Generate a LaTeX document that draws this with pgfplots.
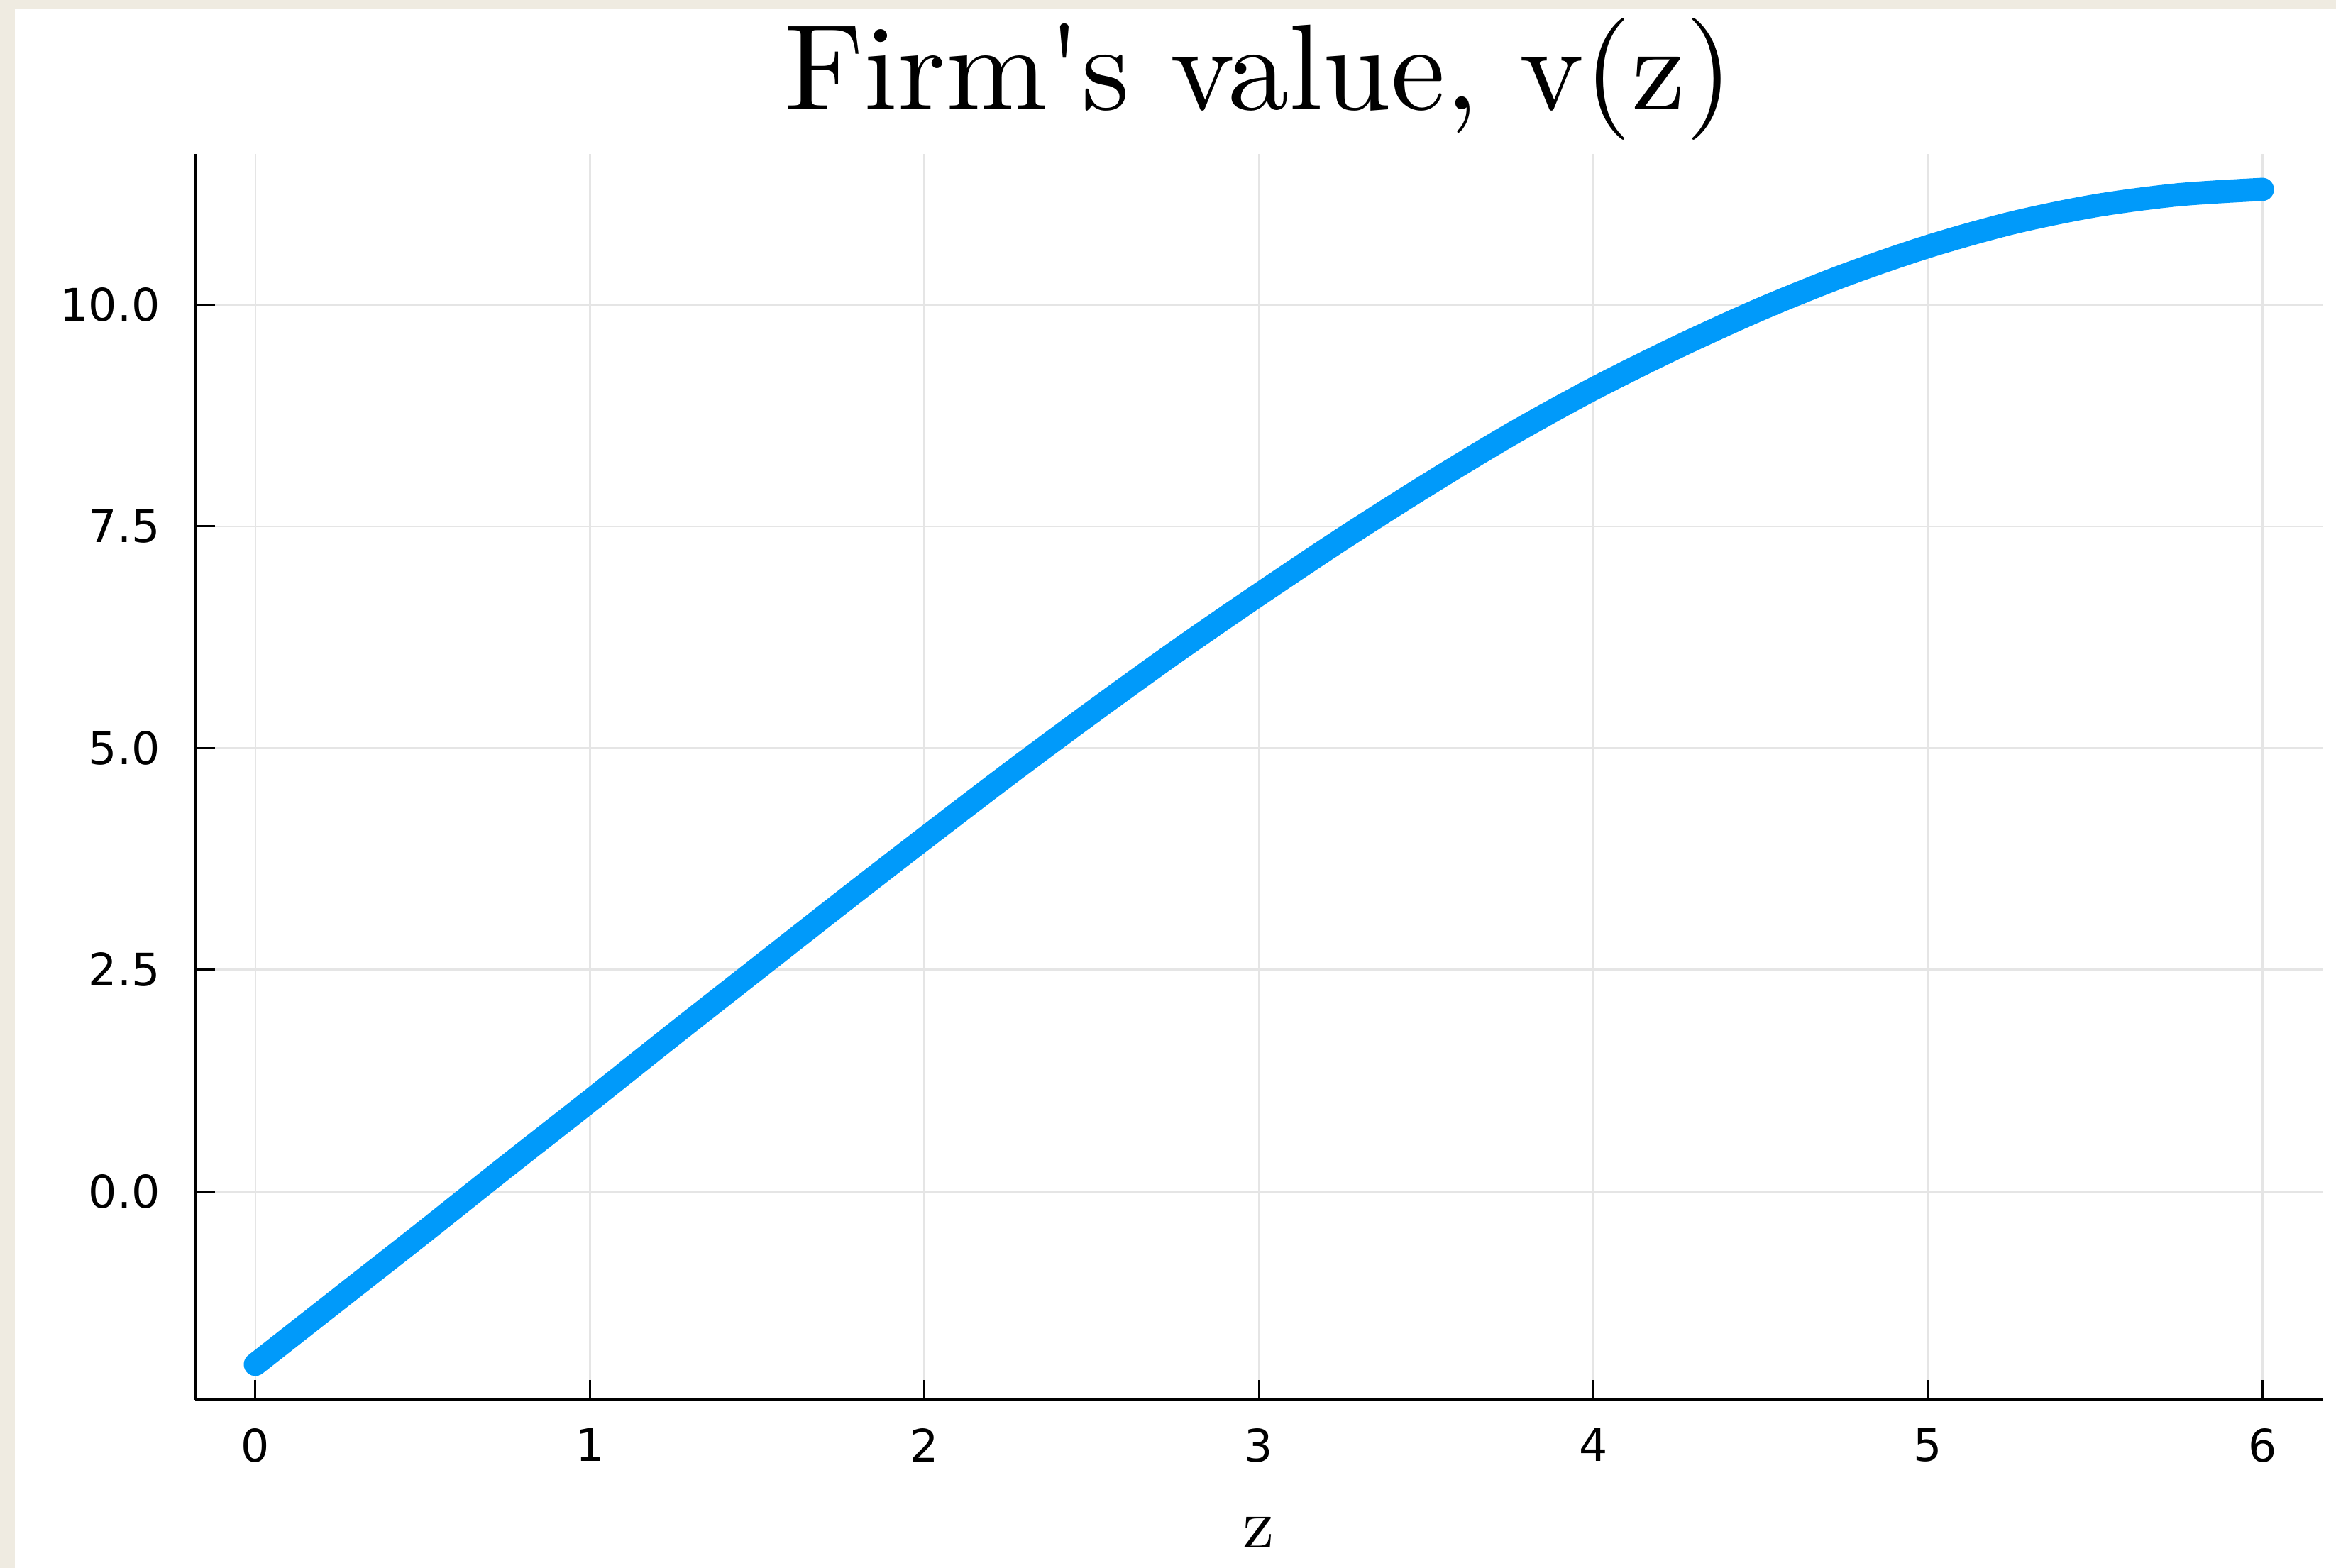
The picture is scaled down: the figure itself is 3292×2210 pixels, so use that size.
\documentclass[border=0pt]{standalone}
\usepackage{fontspec}
\usepackage{pgfplots}
\pgfplotsset{compat=1.18}
\newfontfamily\dejavu{DejaVu Sans}
\newfontfamily\lmten{lmroman10-regular}[Extension=.otf]
\definecolor{plotblue}{RGB}{0,154,250}
\definecolor{beigebg}{RGB}{239,235,225}
\pgfplotstableread{
x y
0.00 -1.95
0.25 -1.21
0.50 -0.47
0.75 0.28
1.00 1.02
1.25 1.77
1.50 2.51
1.75 3.25
2.00 3.98
2.25 4.70
2.50 5.40
2.75 6.08
3.00 6.73
3.25 7.36
3.50 7.96
3.75 8.53
4.00 9.05
4.25 9.52
4.50 9.95
4.75 10.33
5.00 10.655
5.25 10.92
5.50 11.115
5.75 11.24
6.00 11.30
}\vdata
\begin{document}
\begin{tikzpicture}[x=0.15pt,y=0.15pt]
\fill[white] (0,0) rectangle (3292,2210);
\fill[beigebg] (0,0) rectangle (21,2210);
\fill[beigebg] (0,2198) rectangle (3292,2210);
\path[use as bounding box] (0,0) rectangle (3292,2210);
\coordinate (A) at (275,237);
\begin{axis}[
  at={(A)}, anchor=south west,
  width=449.7pt, height=263.4pt, scale only axis,
  xmin=-0.18, xmax=6.18, ymin=-2.35, ymax=11.70,
  axis x line*=bottom, axis y line*=left,
  axis line style={-, line width=0.6pt, black},
  xtick={0,1,2,3,4,5,6},
  ytick={0,2.5,5,7.5,10},
  yticklabels={0.0,2.5,5.0,7.5,10.0},
  xtick pos=left, ytick pos=left,
  tick align=inside,
  major tick length=4.2pt,
  tick style={line width=0.45pt, black},
  grid=major,
  major grid style={color=black!10, line width=0.4pt},
  /pgf/number format/assume math mode=true,
  ticklabel style={font=\dejavu\fontsize{9.5}{11}\selectfont, inner sep=0pt},
  xticklabel style={anchor=north, yshift=-5.85pt},
  yticklabel style={anchor=east, xshift=-7.2pt},
  every axis title shift=0pt,
  title={Firm\textquotesingle s value, v(z)},
  title style={at={(axis description cs:0.5,1)}, anchor=base, yshift=9.3pt, inner sep=0pt, font=\lmten\fontsize{25.8}{30}\selectfont},
  xlabel={z},
  xlabel style={at={(axis description cs:0.5,0)}, anchor=north, inner sep=0pt, yshift=-24.6pt, font=\lmten\fontsize{15}{18}\selectfont},
  clip=false,
]
\addplot[color=plotblue, line width=4.9pt, line cap=round, line join=round, smooth, no markers] table[x=x,y=y] {\vdata};
\end{axis}
\end{tikzpicture}
\end{document}
